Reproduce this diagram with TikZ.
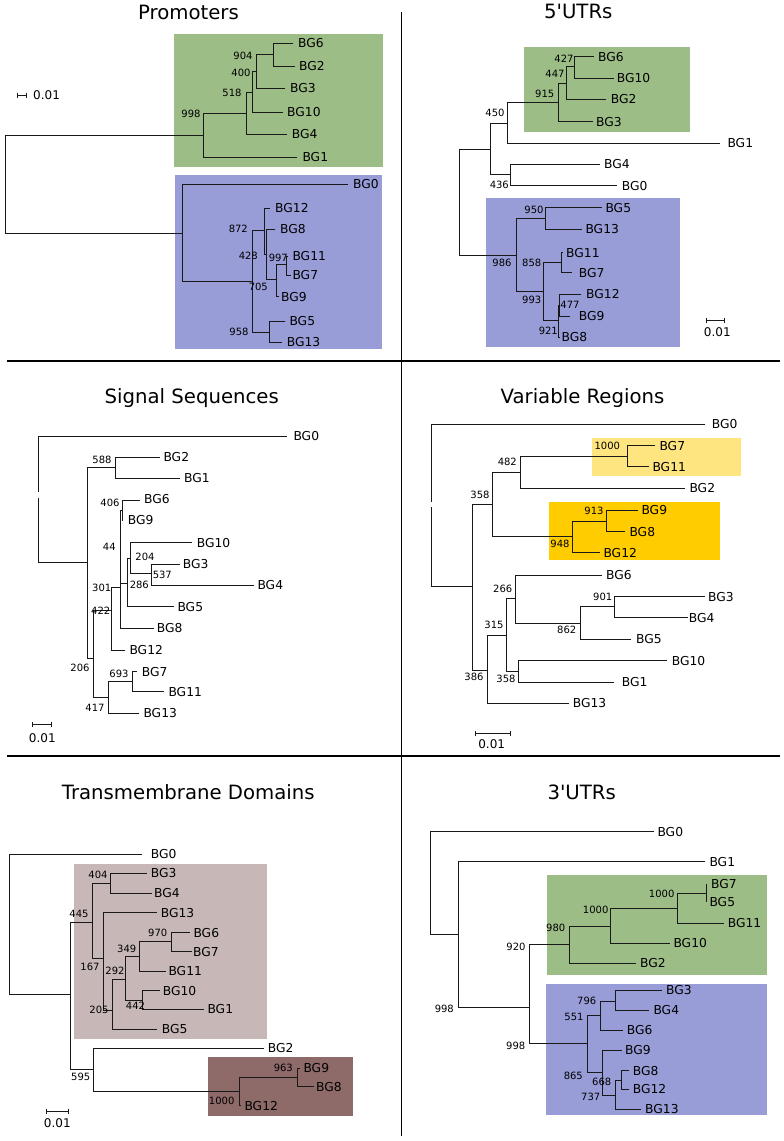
\documentclass[tikz,border=0pt]{standalone}
\usepackage{fontspec}
\setmainfont{DejaVu Sans}[Ligatures=TeXOff]
\definecolor{grn}{RGB}{157,189,134}
\definecolor{blu}{RGB}{152,157,215}
\definecolor{ylt}{RGB}{255,229,127}
\definecolor{gld}{RGB}{255,204,0}
\definecolor{rsl}{RGB}{199,184,183}
\definecolor{rsd}{RGB}{142,106,105}
\definecolor{ln}{RGB}{25,25,25}
\tikzset{
  br/.style={draw=ln,line width=0.9pt,line cap=rect},
  lf/.style={anchor=west,inner sep=0pt,font=\fontsize{12.3}{14}\selectfont},
  bsl/.style={anchor=center,inner sep=0pt,font=\fontsize{10}{12}\selectfont},
  ttl/.style={anchor=base,inner sep=0pt,font=\fontsize{19.7}{22}\selectfont},
  scl/.style={inner sep=0pt,font=\fontsize{12}{14}\selectfont},
  divl/.style={draw=black,line width=1.2pt}
}
\newcommand\hbr[3]{\draw[br] (#1,#3) -- (#2,#3);}
\newcommand\vbr[3]{\draw[br] (#1,#2) -- (#1,#3);}
\newcommand\lfl[3]{\node[lf] at (#1,#2) {#3};}
\newcommand\bsv[3]{\node[bsl] at (#1,#2) {#3};}
\newcommand\sbar[3]{\draw[br,line cap=butt] (#1,#3) -- (#2,#3); \draw[br,line cap=butt] (#1,#3-2.5) -- (#1,#3+2.5); \draw[br,line cap=butt] (#2,#3-2.5) -- (#2,#3+2.5);}
\begin{document}
\begin{tikzpicture}[x=1pt,y=-1pt]
\useasboundingbox[fill=white] (0,0) rectangle (784,1141);
% dividers
\draw[divl] (401.5,12) -- (401.5,1136);
\draw[divl] (7,361) -- (780,361);
\draw[divl] (7,756) -- (780,756);

%%%%%%%% Promoters
\node[ttl] (t1) at (188.5,19) {Promoters};
\fill[grn] (174,34) rectangle (383,167);
\fill[blu] (175,175) rectangle (382,349);
\vbr{5}{135}{233} \hbr{5}{203}{135} \hbr{5}{182}{233}
\vbr{203}{113}{157} \hbr{203}{297}{157} \hbr{203}{246}{113}
\vbr{246}{92}{134} \hbr{246}{287}{134} \hbr{246}{252}{92}
\vbr{252}{71}{112} \hbr{252}{283}{112} \hbr{252}{256}{71}
\vbr{256}{54}{88} \hbr{256}{285}{88} \hbr{256}{273}{54}
\vbr{273}{43}{66} \hbr{273}{293}{43} \hbr{273}{295}{66}
\lfl{298}{43}{BG6} \lfl{299}{66}{BG2} \lfl{290}{88}{BG3} \lfl{287}{112}{BG10}
\lfl{291.7}{134}{BG4} \lfl{302.3}{157}{BG1}
\bsv{243}{56}{904} \bsv{241}{73}{400} \bsv{232}{93}{518} \bsv{191}{114}{998}
\vbr{182}{184}{281} \hbr{182}{348}{184} \hbr{182}{252}{281}
\lfl{353}{184}{BG0}
\vbr{252}{230.7}{332} \hbr{252}{264.3}{230.7} \hbr{252}{269}{332}
\vbr{269}{321}{342} \hbr{269}{285}{321} \hbr{269}{282}{342}
\lfl{289.3}{321}{BG5} \lfl{286.7}{342}{BG13}
\vbr{264.3}{208}{254} \hbr{264.3}{269.3}{208} \hbr{264.3}{266.3}{254}
\lfl{275}{208}{BG12}
\vbr{266.3}{229.3}{279} \hbr{266.3}{275}{229.3} \hbr{266.3}{276.7}{279}
\lfl{280}{229.3}{BG8}
\vbr{276.7}{264.3}{296.7} \hbr{276.7}{279}{296.7} \hbr{276.7}{286.7}{264.3}
\lfl{281}{296.7}{BG9}
\vbr{286.7}{256}{275} \hbr{286.7}{288}{256} \hbr{286.7}{290.7}{275}
\lfl{292.3}{256}{BG11} \lfl{292.3}{275}{BG7}
\bsv{238.3}{229.3}{872} \bsv{248.3}{256}{428} \bsv{278.3}{257.7}{997}
\bsv{258.3}{286.7}{705} \bsv{239}{332}{958}
\sbar{17}{26}{95}
\node[scl,anchor=west] (s1) at (33,95) {0.01};

%%%%%%%% 5'UTRs
\node[ttl] (t2) at (578.3,18.3) {5'UTRs};
\fill[grn] (524.3,46.7) rectangle (689.7,131.7);
\fill[blu] (485.7,197.7) rectangle (679.7,347.3);
\vbr{459.3}{149.3}{255.3} \hbr{459.3}{490.3}{149.3} \hbr{459.3}{516}{255.3}
\vbr{490.3}{123.3}{174.7} \hbr{490.3}{507.3}{123.3} \hbr{490.3}{510.7}{174.7}
\vbr{507.3}{102.7}{143.3} \hbr{507.3}{558.3}{102.7} \hbr{507.3}{719.3}{143.3}
\lfl{727.3}{143.3}{BG1}
\vbr{558.3}{83.3}{121.7} \hbr{558.3}{592.7}{121.7} \hbr{558.3}{566}{83.3}
\lfl{596}{121.7}{BG3}
\vbr{566}{66.7}{99.3} \hbr{566}{606}{99.3} \hbr{566}{574}{66.7}
\lfl{610.7}{99.3}{BG2}
\vbr{574}{56.7}{78.3} \hbr{574}{593.3}{56.7} \hbr{574}{613.3}{78.3}
\lfl{598}{56.7}{BG6} \lfl{616.7}{78.3}{BG10}
\vbr{510.7}{164}{185.7} \hbr{510.7}{599.3}{164} \hbr{510.7}{616.7}{185.7}
\lfl{604}{164}{BG4} \lfl{621.7}{185.7}{BG0}
\bsv{564}{58.3}{427} \bsv{555}{74}{447} \bsv{544.7}{94}{915} \bsv{495}{113.3}{450} \bsv{499.3}{185}{436}
\vbr{516}{218.3}{291.3} \hbr{516}{545.7}{218.3} \hbr{516}{543.3}{291.3}
\vbr{545.7}{207.7}{229.3} \hbr{545.7}{601.7}{207.7} \hbr{545.7}{581.7}{229.3}
\lfl{605.3}{207.7}{BG5} \lfl{585.3}{229.3}{BG13}
\vbr{543.3}{262.7}{320.7} \hbr{543.3}{561.7}{262.7} \hbr{543.3}{558.3}{320.7}
\vbr{561.7}{252.7}{272.7} \hbr{561.7}{562.5}{252.7} \hbr{561.7}{571.7}{272.7}
\lfl{566}{252.7}{BG11} \lfl{578.7}{272.7}{BG7}
\vbr{558.3}{305}{337} \hbr{558.3}{559.8}{305} \hbr{558.3}{559.5}{337}
\vbr{559.8}{294}{316} \hbr{559.8}{580.7}{294} \hbr{559.8}{570}{316}
\lfl{586}{294}{BG12} \lfl{578.7}{316}{BG9} \lfl{561.5}{337}{BG8}
\bsv{502}{263.3}{986} \bsv{534}{210}{950} \bsv{531.7}{263.3}{858} \bsv{531.7}{300}{993}
\bsv{570}{305}{477} \bsv{548.3}{330.7}{921}
\sbar{706.7}{724}{320.7}
\node[scl] (s2) at (717.3,332.3) {0.01};

%%%%%%%% Signal Sequences
\node[ttl] (t3) at (191.7,403.3) {Signal Sequences};
\vbr{38.3}{436}{491.5} \vbr{38.3}{498.5}{562.3} \hbr{38.3}{286.7}{436} \hbr{38.3}{87.3}{562.3}
\lfl{293.3}{436}{BG0}
\vbr{87.3}{467.7}{658.3} \hbr{87.3}{115}{467.7} \hbr{87.3}{93.3}{658.3}
\vbr{115}{457.3}{478.3} \hbr{115}{159.3}{457.3} \hbr{115}{179.3}{478.3}
\lfl{163.3}{457.3}{BG2} \lfl{184}{478.3}{BG1}
\vbr{93.3}{610}{697.7} \hbr{93.3}{111.7}{610} \hbr{93.3}{108.3}{697.7}
\vbr{111.7}{587.7}{650} \hbr{111.7}{120}{587.7} \hbr{111.7}{125}{650}
\lfl{129.3}{650}{BG12}
\vbr{120}{510.7}{628.3} \hbr{120}{122.3}{510.7} \hbr{120}{127.3}{583.3} \hbr{120}{153.3}{628.3}
\lfl{156.7}{628.3}{BG8}
\vbr{122.3}{500}{520} \hbr{122.3}{140}{500} \hbr{122.3}{123}{520}
\lfl{144}{499.5}{BG6} \lfl{127.7}{520}{BG9}
\vbr{127.3}{558.3}{606.7} \hbr{127.3}{130.7}{558.3} \hbr{127.3}{173.3}{606.7}
\lfl{177.3}{606.7}{BG5}
\vbr{130.7}{542.7}{573.3} \hbr{130.7}{191.7}{542.7} \hbr{130.7}{151.7}{573.3}
\lfl{196.7}{542.7}{BG10}
\vbr{151.7}{564}{585} \hbr{151.7}{180}{564} \hbr{151.7}{253.3}{585}
\lfl{182.7}{564}{BG3} \lfl{257.3}{585}{BG4}
\vbr{108.3}{681.7}{713.3} \hbr{108.3}{132.7}{681.7} \hbr{108.3}{138.3}{713.3}
\lfl{143.3}{713.3}{BG13}
\vbr{132.7}{671.7}{691.7} \hbr{132.7}{136.7}{671.7} \hbr{132.7}{164}{691.7}
\lfl{141.7}{671.7}{BG7} \lfl{168.3}{691.7}{BG11}
\bsv{102}{460}{588} \bsv{110}{503.3}{406} \bsv{109.3}{546.7}{44} \bsv{145}{557.3}{204}
\bsv{162.3}{575}{537} \bsv{139.3}{585}{286} \bsv{101.7}{588.3}{301} \bsv{100.7}{611}{422}
\bsv{80}{668.3}{206} \bsv{119}{674}{693} \bsv{95}{707.7}{417}
\sbar{32.3}{51}{724.3}
\node[scl] (s3) at (42.3,737.7) {0.01};

%%%%%%%% Variable Regions
\node[ttl] (t4) at (582.5,403.3) {Variable Regions};
\fill[ylt] (591.7,438.3) rectangle (740.7,476);
\fill[gld] (549,502) rectangle (719.7,560.3);
\vbr{431}{424.3}{502} \vbr{431}{507}{586.7} \hbr{431}{705}{424.3} \hbr{431}{472.7}{586.7}
\lfl{711.7}{424.3}{BG0}
\vbr{472.7}{504}{670} \hbr{472.7}{492}{504} \hbr{472.7}{487.3}{670}
\vbr{492}{472.7}{536.7} \hbr{492}{520}{472.7} \hbr{492}{572.7}{536.7}
\vbr{520}{456.7}{488.3} \hbr{520}{627.3}{456.7} \hbr{520}{685}{488.3}
\lfl{689.3}{488.3}{BG2}
\vbr{627.3}{445.7}{466.7} \hbr{627.3}{655}{445.7} \hbr{627.3}{648.3}{466.7}
\lfl{659.3}{445.7}{BG7} \lfl{652.3}{466.7}{BG11}
\vbr{572.7}{521}{552.7} \hbr{572.7}{606.7}{521} \hbr{572.7}{599.3}{552.7}
\lfl{603.3}{552.7}{BG12}
\vbr{606.7}{510}{531.7} \hbr{606.7}{637.3}{510} \hbr{606.7}{625}{531.7}
\lfl{641.3}{510}{BG9} \lfl{629.3}{531.7}{BG8}
\vbr{487.3}{635.3}{703.3} \hbr{487.3}{506.7}{635.3} \hbr{487.3}{568.3}{703.3}
\lfl{572.7}{703.3}{BG13}
\vbr{506.7}{598.3}{671.7} \hbr{506.7}{515}{598.3} \hbr{506.7}{518.3}{671.7}
\vbr{515}{575}{623.3} \hbr{515}{601.7}{575} \hbr{515}{580}{623.3}
\lfl{606}{575}{BG6}
\vbr{580}{606.7}{639.3} \hbr{580}{614.3}{606.7} \hbr{580}{631}{639.3}
\lfl{636}{639.3}{BG5}
\vbr{614.3}{596.7}{617.7} \hbr{614.3}{705}{596.7} \hbr{614.3}{687.3}{617.7}
\lfl{708}{596.7}{BG3} \lfl{688.7}{617.7}{BG4}
\vbr{518.3}{660.7}{682} \hbr{518.3}{666.7}{660.7} \hbr{518.3}{613.3}{682}
\lfl{671.7}{660.7}{BG10} \lfl{621.7}{682}{BG1}
\bsv{607.3}{446}{1000} \bsv{507.3}{462.3}{482} \bsv{480}{495}{358} \bsv{594}{511}{913}
\bsv{560}{544.3}{948} \bsv{502.7}{589}{266} \bsv{602.7}{596.7}{901} \bsv{494}{625}{315}
\bsv{566.7}{630}{862} \bsv{474}{676.7}{386} \bsv{506}{679}{358}
\sbar{475.7}{510}{733.3}
\node[scl] (s4) at (491.7,744.3) {0.01};

%%%%%%%% Transmembrane Domains
\node[ttl] (t5) at (188.3,799.3) {Transmembrane Domains};
\fill[rsl] (74.3,864.3) rectangle (267.3,1039.3);
\fill[rsd] (208,1056.7) rectangle (352.7,1115.7);
\vbr{9.3}{854}{994.3} \hbr{9.3}{141.7}{854} \hbr{9.3}{70}{994.3}
\lfl{150.7}{854}{BG0}
\vbr{70}{922}{1069} \hbr{70}{92.7}{922} \hbr{70}{93.3}{1069}
\vbr{92.7}{883}{958} \hbr{92.7}{110}{883} \hbr{92.7}{103.3}{958}
\vbr{110}{873.3}{893} \hbr{110}{146.7}{873.3} \hbr{110}{151.7}{893}
\lfl{150.7}{873.3}{BG3} \lfl{154}{893}{BG4}
\vbr{103.3}{912.7}{1010} \hbr{103.3}{156.7}{912.7} \hbr{103.3}{112.3}{1010}
\lfl{160.7}{912.7}{BG13}
\vbr{112.3}{979}{1029} \hbr{112.3}{125.7}{979} \hbr{112.3}{156.7}{1029}
\lfl{161.7}{1029}{BG5}
\vbr{125.7}{956}{1000} \hbr{125.7}{139.3}{956} \hbr{125.7}{142.7}{1000}
\vbr{139.3}{941.7}{971} \hbr{139.3}{171}{941.7} \hbr{139.3}{165.7}{971}
\lfl{168.3}{971}{BG11}
\vbr{171}{932.7}{951.7} \hbr{171}{189.3}{932.7} \hbr{171}{191.7}{951.7}
\lfl{193.3}{932.7}{BG6} \lfl{193}{951.7}{BG7}
\vbr{142.7}{990.7}{1009.3} \hbr{142.7}{159.3}{990.7} \hbr{142.7}{203.3}{1009.3}
\lfl{162.7}{990.7}{BG10} \lfl{207.3}{1009.3}{BG1}
\vbr{93.3}{1048.3}{1091.7} \hbr{93.3}{263.3}{1048.3} \hbr{93.3}{239.3}{1091.7}
\lfl{267.7}{1048.3}{BG2}
\vbr{239.3}{1077.7}{1105.7} \hbr{239.3}{297.3}{1077.7} \hbr{239.3}{240.5}{1105.7}
\lfl{244.3}{1105.7}{BG12}
\vbr{297.3}{1068.3}{1086.7} \hbr{297.3}{300}{1068.3} \hbr{297.3}{314}{1086.7}
\lfl{303.3}{1068.3}{BG9} \lfl{316}{1086.7}{BG8}
\bsv{98}{875}{404} \bsv{79}{914.3}{445} \bsv{157.7}{932.7}{970} \bsv{126.7}{949.3}{349}
\bsv{90}{966.7}{167} \bsv{115}{971}{292} \bsv{135.5}{1006}{442} \bsv{99}{1010.3}{205}
\bsv{80.7}{1077.3}{595} \bsv{283.3}{1068.3}{963} \bsv{221.7}{1100.7}{1000}
\sbar{46}{68.3}{1111}
\node[scl] (s5) at (57.3,1123.3) {0.01};

%%%%%%%% 3'UTRs
\node[ttl] (t6) at (581.7,799.3) {3'UTRs};
\fill[grn] (546.7,875) rectangle (766.7,975);
\fill[blu] (546,984.3) rectangle (766.7,1115);
\vbr{430.7}{831.7}{934} \hbr{430.7}{654}{831.7} \hbr{430.7}{458.3}{934}
\lfl{657.3}{831.7}{BG0}
\vbr{458.3}{861.7}{1007.7} \hbr{458.3}{705}{861.7} \hbr{458.3}{529.3}{1007.7}
\lfl{709.3}{861.7}{BG1}
\vbr{529.3}{944.3}{1043.3} \hbr{529.3}{569.3}{944.3} \hbr{529.3}{587.3}{1043.3}
\vbr{569.3}{926}{963.3} \hbr{569.3}{610}{926} \hbr{569.3}{636}{963.3}
\lfl{640}{963.3}{BG2}
\vbr{610}{908.3}{943.3} \hbr{610}{677.7}{908.3} \hbr{610}{669.3}{943.3}
\lfl{673.3}{943.3}{BG10}
\vbr{677.7}{893.3}{923.3} \hbr{677.7}{706}{893.3} \hbr{677.7}{723.3}{923.3}
\lfl{727.7}{923.3}{BG11}
\vbr{706}{884.3}{901.7}
\lfl{711}{884.3}{BG7} \lfl{709.3}{901.7}{BG5}
\vbr{587.3}{1015}{1072.3} \hbr{587.3}{600}{1015} \hbr{587.3}{602.3}{1072.3}
\vbr{600}{1001}{1030} \hbr{600}{615}{1001} \hbr{600}{622.7}{1030}
\lfl{626.7}{1030}{BG6}
\vbr{615}{990}{1010.3} \hbr{615}{661.7}{990} \hbr{615}{648.3}{1010.3}
\lfl{666}{990}{BG3} \lfl{653.3}{1010.3}{BG4}
\vbr{602.3}{1050}{1095} \hbr{602.3}{621.7}{1050} \hbr{602.3}{615}{1095}
\lfl{625}{1050}{BG9}
\vbr{615}{1080}{1109.3} \hbr{615}{621.7}{1080} \hbr{615}{641}{1109.3}
\lfl{645}{1109.3}{BG13}
\vbr{621.7}{1070.7}{1089} \hbr{621.7}{628.3}{1070.7} \hbr{621.7}{628.3}{1089}
\lfl{632.7}{1070.7}{BG8} \lfl{632.7}{1089}{BG12}
\bsv{661.7}{894.3}{1000} \bsv{595.7}{910}{1000} \bsv{555.7}{927.7}{980} \bsv{516}{947}{920}
\bsv{586.7}{1000.7}{796} \bsv{444.3}{1009}{998} \bsv{574}{1017.3}{551} \bsv{515.7}{1046}{998}
\bsv{573.3}{1075.7}{865} \bsv{601.7}{1081.7}{668} \bsv{590.7}{1096.7}{737}
\end{tikzpicture}
\end{document}
